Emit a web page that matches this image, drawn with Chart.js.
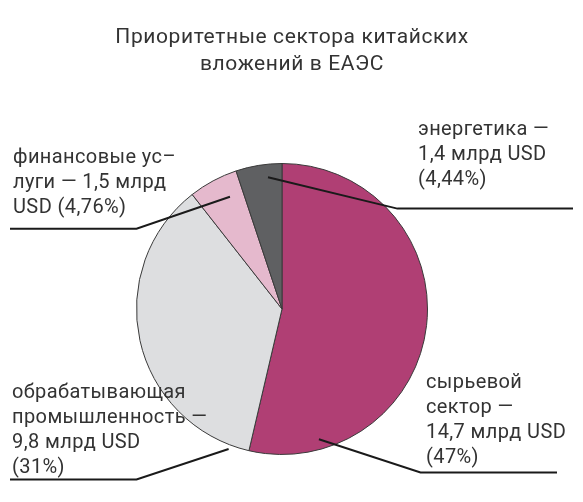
<!DOCTYPE html>
<html><head><meta charset="utf-8">
<script src="https://cdn.jsdelivr.net/npm/chart.js@4/dist/chart.umd.min.js"></script>
<style>html,body{margin:0;padding:0;background:#fff;overflow:hidden}#wrap{width:583px;height:502px;position:relative}</style>
</head><body><div id="wrap"><canvas id="c"></canvas></div>
<script>
// ---- data ----
const titleLines = ['Приоритетные сектора китайских', 'вложений в ЕАЭС'];
const categories = ['сырьевой сектор', 'обрабатывающая промышленность', 'финансовые услуги', 'энергетика'];
const valuesBlnUSD = [14.7, 9.8, 1.5, 1.4];
const sharePct = ['47%', '31%', '4,76%', '4,44%'];
const labelLines = [
  ['сырьевой', 'сектор —', '14,7 млрд USD', '(47%)'],
  ['обрабатывающая', 'промышленность —', '9,8 млрд USD', '(31%)'],
  ['финансовые ус–', 'луги — 1,5 млрд', 'USD (4,76%)'],
  ['энергетика —', '1,4 млрд USD', '(4,44%)']
];
const sliceColors = ['#B03F74', '#DDDEE0', '#E5B9CD', '#5F6062'];

// ---- label layout (style) ----
const FONT = '20px Roboto';
const TEXT_COLOR = '#333333';
const LINE_H = 25;
const labelLayout = [
  { tx: 426, ty: 388, frac: 0.85, rf: 0.93, elbow: [0.952, 1.124], endX: 557 },
  { tx: 12,  ty: 398, frac: 0.06, rf: 1.03, elbow: [-1.0, 1.172],  endX: 10 },
  { tx: 13,  ty: 163, frac: 0.67, rf: 0.85, elbow: [-1.0, -0.552], endX: 10 },
  { tx: 418, ty: 135, frac: 0.67, rf: 0.91, elbow: [0.793, -0.69], endX: 573 }
];

const annotate = {
  id: 'annotate',
  afterDraw(chart) {
    const ctx = chart.ctx;
    const meta = chart.getDatasetMeta(0);
    ctx.save();
    // title
    ctx.font = '21px Roboto';
    ctx.letterSpacing = '0.6px';
    ctx.fillStyle = TEXT_COLOR;
    ctx.textAlign = 'center';
    ctx.textBaseline = 'alphabetic';
    titleLines.forEach((t, i) => ctx.fillText(t, 292, 43 + i * 27));
    // leader lines
    meta.data.forEach((arc, i) => {
      const p = arc.getProps(['x', 'y', 'startAngle', 'endAngle', 'outerRadius'], true);
      const L = labelLayout[i];
      const a = p.startAngle + L.frac * (p.endAngle - p.startAngle);
      const sx = p.x + Math.cos(a) * p.outerRadius * L.rf;
      const sy = p.y + Math.sin(a) * p.outerRadius * L.rf;
      const ex = p.x + L.elbow[0] * p.outerRadius;
      const ey = p.y + L.elbow[1] * p.outerRadius;
      ctx.beginPath();
      ctx.moveTo(sx, sy);
      ctx.lineTo(ex, ey);
      ctx.lineTo(L.endX, ey);
      ctx.strokeStyle = '#1a1a1a';
      ctx.lineWidth = 2;
      ctx.lineJoin = 'miter';
      ctx.stroke();
    });
    // labels
    ctx.font = FONT;
    ctx.letterSpacing = '0.4px';
    ctx.textAlign = 'left';
    ctx.fillStyle = TEXT_COLOR;
    labelLines.forEach((lines, i) => {
      const L = labelLayout[i];
      lines.forEach((t, j) => ctx.fillText(t, L.tx, L.ty + j * LINE_H));
    });
    ctx.restore();
  }
};

new Chart(document.getElementById('c'), {
  type: 'pie',
  data: {
    labels: categories,
    datasets: [{
      data: valuesBlnUSD,
      backgroundColor: sliceColors,
      borderColor: '#3a3a3a',
      borderWidth: 1
    }]
  },
  options: {
    responsive: true,
    maintainAspectRatio: false,
    animation: false,
    layout: { padding: { left: 136, right: 155, top: 163, bottom: 47 } },
    plugins: { legend: { display: false }, tooltip: { enabled: false }, title: { display: false } }
  },
  plugins: [annotate]
});
</script>
</body></html>
